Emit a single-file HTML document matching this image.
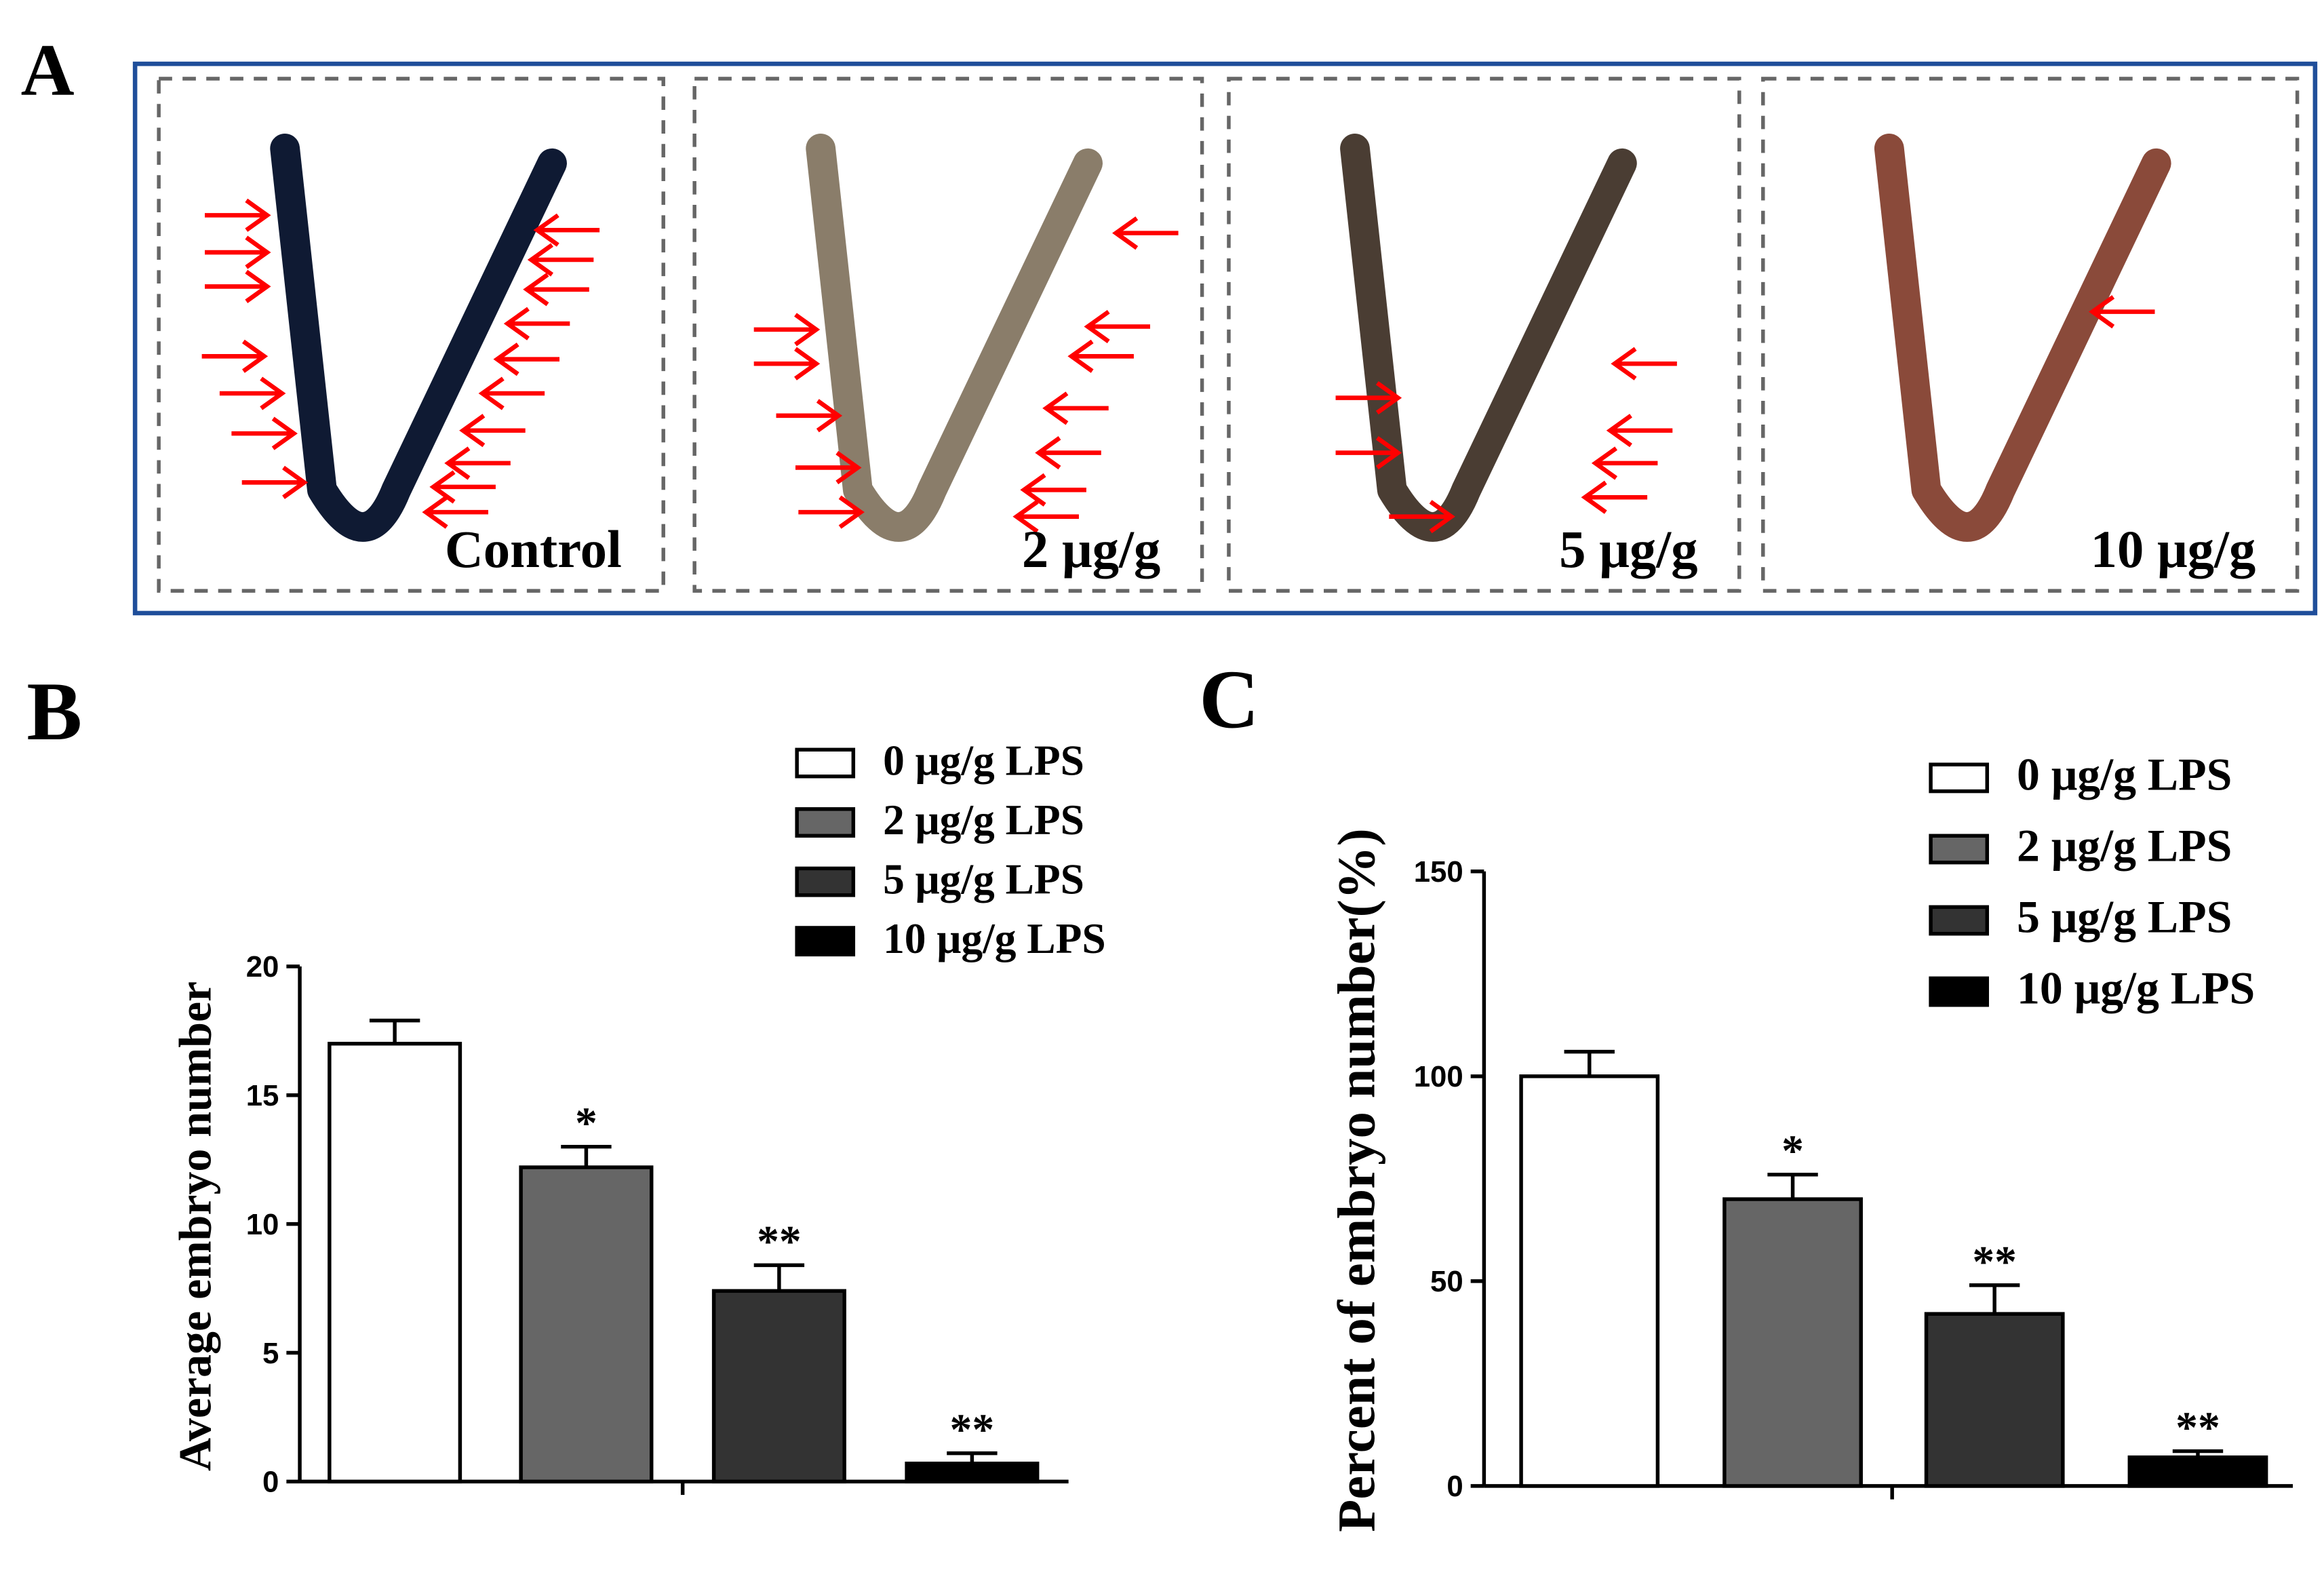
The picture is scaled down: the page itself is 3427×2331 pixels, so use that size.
<!DOCTYPE html>
<html><head><meta charset="utf-8"><style>
html,body{margin:0;padding:0;background:#fff;}
svg{display:block;}
text{font-family:"Liberation Serif",serif;font-weight:bold;}
.tick{font-family:"Liberation Sans",sans-serif;font-size:20px;}
</style></head><body>
<svg id="fig" width="3427" height="2331" viewBox="0 0 1566 1065" preserveAspectRatio="none" xmlns="http://www.w3.org/2000/svg">
<g>
<text x="14" y="64" font-size="50">A</text>
<rect x="91" y="43" width="1469" height="370" fill="none" stroke="#1f4e9a" stroke-width="3"/>
<g id="photos"></g>
</g>
<g>
<text x="18" y="498" font-size="56">B</text>
<g id="chartB"></g>
</g>
<g>
<text x="808" y="490" font-size="56">C</text>
<g id="chartC"></g>
</g>
</svg>
<script>
const NS="http://www.w3.org/2000/svg";
function mk(tag,attrs,parent,txt){const e=document.createElementNS(NS,tag);for(const k in attrs)e.setAttribute(k,attrs[k]);if(txt!==undefined)e.textContent=txt;parent.appendChild(e);return e;}

const photoLabels=["Control","2 μg/g","5 μg/g","10 μg/g"];
const photoColors=["#0f1a33","#8a7d6a","#4a3d33","#8a4a3a"];
const boxX=[107,468,828,1188];
const boxW=[340,342,344,360];
// arrows: [tipX, y, direction(1=right,-1=left)]
const arrowSets=[
 [[180,145,1],[180,170,1],[180,193,1],[178,240,1],[190,265,1],[198,292,1],[205,325,1],
  [362,155,-1],[358,175,-1],[355,195,-1],[342,218,-1],[335,242,-1],[325,265,-1],[312,290,-1],[302,312,-1],[292,328,-1],[287,345,-1]],
 [[752,157,-1],[550,222,1],[550,245,1],[565,280,1],[578,315,1],[580,345,1],
  [733,220,-1],[722,240,-1],[705,275,-1],[700,305,-1],[690,330,-1],[685,348,-1]],
 [[942,268,1],[942,305,1],[978,348,1],[1088,245,-1],[1085,290,-1],[1075,312,-1],[1068,335,-1]],
 [[1410,210,-1]]
];
const photos=document.getElementById('photos');
photoLabels.forEach((lab,i)=>{
  const g=mk('g',{},photos);
  
  
  mk('rect',{x:boxX[i],y:53,width:boxW[i],height:345,fill:'none',stroke:'#666','stroke-width':2.5,'stroke-dasharray':'9,7'},g);
  const x0=boxX[i];
  mk('path',{d:`M${x0+85} 100 L${x0+110} 330 Q${x0+140} 380 ${x0+160} 330 L${x0+265} 110`,fill:'none',stroke:photoColors[i],'stroke-width':20,'stroke-linecap':'round','stroke-linejoin':'round'},g);
  arrowSets[i].forEach(a=>{
    const [tx,ty,d]=a;const tail=tx-d*42;
    const ar=mk('path',{d:`M${tail} ${ty} L${tx} ${ty} M${tx-d*14} ${ty-10} L${tx} ${ty} L${tx-d*14} ${ty+10}`,fill:'none',stroke:'#ff0000','stroke-width':3},g);
    
    
  });
  const t=mk('text',{x:x0+boxW[i]-28,y:382,'font-size':36,'text-anchor':'end'},g,lab);
  
  
});

function chart(gid,cfg){
  const g=document.getElementById(gid);
  const y=v=>cfg.y0-(v/cfg.max)*(cfg.y0-cfg.yTop);
  const ya=mk('line',{x1:cfg.ax,y1:cfg.yTop,x2:cfg.ax,y2:cfg.y0,stroke:'#000','stroke-width':2.5},g);
  
  const xa=mk('line',{x1:cfg.ax,y1:cfg.y0,x2:cfg.axEnd,y2:cfg.y0,stroke:'#000','stroke-width':2.5},g);
  
  mk('line',{x1:cfg.midTick,y1:cfg.y0,x2:cfg.midTick,y2:cfg.y0+9,stroke:'#000','stroke-width':2.5},g);
  cfg.ticks.forEach(t=>{
    mk('line',{x1:cfg.ax-9,y1:y(t),x2:cfg.ax,y2:y(t),stroke:'#000','stroke-width':2.5},g);
    const tl=mk('text',{x:cfg.ax-14,y:y(t)+7,'text-anchor':'end',class:'tick'},g,String(t));
    
  });
  const tt=mk('text',{transform:`translate(${cfg.titleX},${cfg.titleY}) rotate(-90)`,'text-anchor':'middle','font-size':cfg.titleSize},g,cfg.title);
  
  cfg.values.forEach((v,i)=>{
    const x=cfg.barX[i],w=cfg.barW;
    const top=y(v),et=y(v+cfg.errors[i]);
    mk('line',{x1:x+w/2,y1:top,x2:x+w/2,y2:et,stroke:'#000','stroke-width':2.5},g);
    mk('line',{x1:x+w/2-17,y1:et,x2:x+w/2+17,y2:et,stroke:'#000','stroke-width':2.5},g);
    const r=mk('rect',{x:x,y:top,width:w,height:cfg.y0-top,fill:cfg.fills[i],stroke:'#000','stroke-width':2.5},g);
    
    if(cfg.stars[i]){const s=mk('text',{x:x+w/2,y:et-6,'text-anchor':'middle','font-size':30,'font-family':'Liberation Sans'},g,cfg.stars[i]);
      }
  });
  cfg.legend.forEach((l,i)=>{
    const ly=cfg.legY+i*cfg.legStep;
    const lr=mk('rect',{x:cfg.legX,y:ly,width:38,height:18,fill:cfg.fills[i],stroke:'#000','stroke-width':2.5},g);
    
    const lt=mk('text',{x:cfg.legX+58,y:ly+17,'font-size':cfg.legSize},g,l);
    
  });
}
const groups=["0 μg/g LPS","2 μg/g LPS","5 μg/g LPS","10 μg/g LPS"];
const fills=["#ffffff","#666666","#333333","#000000"];
const stars=["","*","**","**"];
const embryoValues=[17,12.2,7.4,0.7];
const embryoErrors=[0.9,0.8,1.0,0.4];
const embryoTicks=[0,5,10,15,20];
const percentValues=[100,70,42,7];
const percentErrors=[6,6,7,1.5];
const percentTicks=[0,50,100,150];

chart('chartB',{values:embryoValues,errors:embryoErrors,ticks:embryoTicks,max:20,y0:998,yTop:651,ax:202,axEnd:720,midTick:460,
  barX:[222,351,481,611],barW:88,fills:fills,stars:stars,title:"Average embryo number",titleX:142,titleY:826,titleSize:31,
  legend:groups,legX:537,legY:505,legStep:40,legSize:29});
chart('chartC',{values:percentValues,errors:percentErrors,ticks:percentTicks,max:150,y0:1001,yTop:587,ax:1000,axEnd:1545,midTick:1275,
  barX:[1025,1162,1298,1435],barW:92,fills:fills,stars:stars,title:"Percent of embryo number(%)",titleX:926,titleY:795,titleSize:36,
  legend:groups,legX:1301,legY:515,legStep:48,legSize:31});
</script>
</body></html>
